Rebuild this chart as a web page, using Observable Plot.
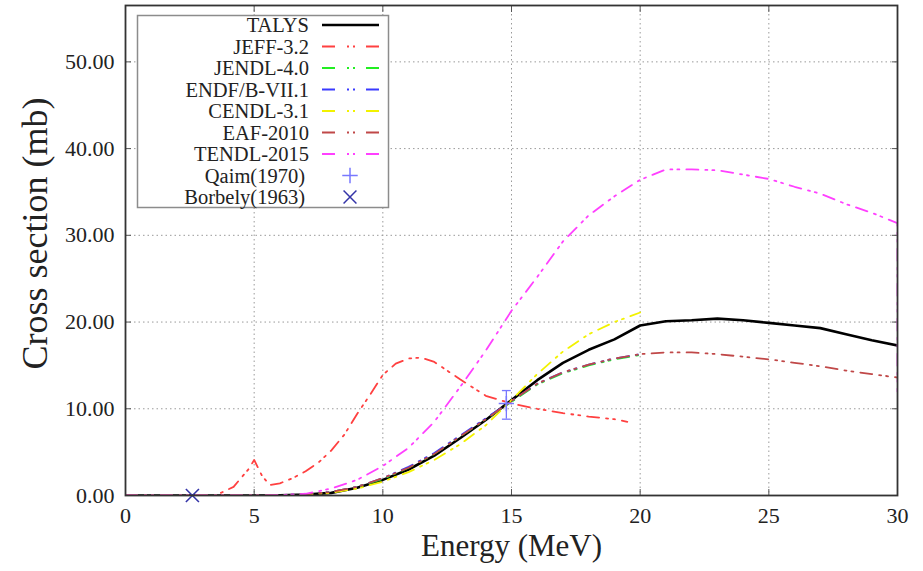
<!DOCTYPE html>
<html><head><meta charset="utf-8">
<script src="https://cdn.jsdelivr.net/npm/d3@7"></script>
<script src="https://cdn.jsdelivr.net/npm/@observablehq/plot@0.6"></script>
<style>body{margin:0;background:#fff}#chart{width:923px;height:571px}</style>
</head><body><div id="chart"></div>
<script>
// ---- data (energy MeV, cross section mb) ----
const seriesNames = ["TALYS","JEFF-3.2","JENDL-4.0","ENDF/B-VII.1","CENDL-3.1","EAF-2010","TENDL-2015"];
const seriesColors = ["#000000","#ff4040","#22ee22","#3a3aff","#f2f200","#c04848","#ff40ff"];
const TALYS = [[0,0],[5,0],[6,0.02],[7,0.1],[8,0.3],[9,0.9],[10,1.8],[11,3.0],[12,4.6],[13,6.6],[14,8.7],[15,11.0],[16,13.3],[17,15.3],[18,16.8],[19,18.0],[20,19.6],[21,20.1],[22,20.2],[23,20.4],[24,20.2],[25,19.9],[26,19.6],[27,19.3],[28,18.6],[29,17.9],[30,17.3]];
const JEFF = [[0,0],[3.5,0],[4.2,1.0],[4.8,3.1],[5.0,4.1],[5.3,2.3],[5.6,1.2],[6,1.4],[6.5,2.0],[7,2.8],[7.5,3.8],[8,5.2],[8.5,7.0],[9,9.4],[9.5,11.6],[10,13.9],[10.5,15.2],[11,15.8],[11.5,15.9],[12,15.4],[13,13.4],[14,11.5],[15,10.6],[16,10.0],[17,9.5],[18,9.1],[19,8.8],[19.5,8.5]];
const JENDL = [[0,0],[5,0],[6,0.03],[7,0.15],[8,0.4],[9,1.0],[10,1.9],[11,3.2],[12,4.8],[13,6.8],[14,8.8],[15,10.8],[16,12.8],[17,14.1],[18,15.0],[19,15.7],[20,16.2]];
const ENDF = [[0,0],[5,0],[6,0.03],[7,0.15],[8,0.4],[9,1.0],[10,2.0],[11,3.3],[12,4.9],[13,6.9],[14,8.9],[15,10.9],[16,12.9],[17,14.2],[18,15.1],[19,15.8],[20,16.3]];
const CENDL = [[0,0],[5,0],[6,0.02],[7,0.1],[8,0.3],[9,0.8],[10,1.6],[11,2.7],[12,4.1],[13,5.9],[14,8.1],[15,11.0],[16,14.0],[17,16.6],[18,18.6],[19,20.0],[20,21.1]];
const EAF = [[0,0],[5,0],[6,0.03],[7,0.15],[8,0.4],[9,1.0],[10,2.0],[11,3.2],[12,4.8],[13,6.8],[14,8.8],[15,10.9],[16,12.9],[17,14.2],[18,15.1],[19,15.8],[20,16.3],[21,16.5],[22,16.5],[23,16.3],[24,16.0],[25,15.7],[26,15.3],[27,14.9],[28,14.4],[29,14.0],[30,13.6]];
const TENDL = [[0,0],[5,0],[6,0.05],[7,0.2],[8,0.8],[9,1.8],[10,3.4],[11,5.5],[12,8.5],[13,12.5],[14,16.7],[15,21.3],[16,25.2],[17,29.3],[18,32.3],[19,34.5],[20,36.4],[21,37.6],[22,37.6],[23,37.5],[24,37.0],[25,36.5],[26,35.6],[27,34.8],[28,33.6],[29,32.6],[30,31.4],[30,12.0]];
const qaimE = [14.8], qaimXS = [10.6], qaimLo = [8.8], qaimHi = [12.1];
const borbelyE = [2.6], borbelyXS = [0.0];
const xTicks = [0,5,10,15,20,25,30];
const yTicks = [0,10,20,30,40,50];
const expNames = ["Qaim(1970)","Borbely(1963)"];
const expColors = ["#7878ff","#3434a8"];

// ---- build table ----
const seriesData = [TALYS, JEFF, JENDL, ENDF, CENDL, EAF, TENDL];
const rows = seriesData.map((arr, i) => arr.map(([e, xs]) => ({series: seriesNames[i], e, xs})));
const qaim = qaimE.map((e, i) => ({e, xs: qaimXS[i], lo: qaimLo[i], hi: qaimHi[i]}));
const borbely = borbelyE.map((e, i) => ({e, xs: borbelyXS[i]}));

const serif = '"Liberation Serif", "Times New Roman", serif';
const dash = "12,7,2,5,2,7";
const capSymbol = {draw(ctx, size) { const w = Math.sqrt(size); ctx.moveTo(-w/2, 0); ctx.lineTo(w/2, 0); }};

const lineMarks = rows.map((data, i) => Plot.line(data, {
  x: "e", y: "xs", stroke: seriesColors[i],
  strokeWidth: i === 0 ? 2.6 : 1.8,
  strokeDasharray: i === 0 ? null : dash,
  clip: true
}));

const chart = Plot.plot({
  width: 923, height: 571,
  marginLeft: 125, marginRight: 26, marginTop: 5, marginBottom: 76,
  style: {fontFamily: serif, fontSize: "22px", color: "#222", background: "#fff", overflow: "visible"},
  x: {domain: [0, 30], label: null},
  y: {domain: [0, 56.5], label: null},
  marks: [
    Plot.gridX(xTicks, {stroke: "#9a9a9a", strokeOpacity: 1, strokeDasharray: "1.5,3"}),
    Plot.gridY(yTicks, {stroke: "#9a9a9a", strokeOpacity: 1, strokeDasharray: "1.5,3"}),
    Plot.axisX(xTicks, {anchor: "bottom", tickSize: -6, tickPadding: 18, label: null, fontSize: 22, stroke: "#555"}),
    Plot.axisX(xTicks, {anchor: "top", tickSize: -6, tickFormat: () => "", label: null, stroke: "#555"}),
    Plot.axisY(yTicks, {anchor: "left", tickSize: -6, tickPadding: 17, label: null, fontSize: 22, stroke: "#555", tickFormat: d => d.toFixed(2)}),
    Plot.axisY(yTicks, {anchor: "right", tickSize: -6, tickFormat: () => "", label: null, stroke: "#555"}),
    ...lineMarks,
    Plot.ruleX(qaim, {x: "e", y1: "lo", y2: "hi", stroke: expColors[0], strokeWidth: 1.3}),
    Plot.dot(qaim, {x: "e", y: "lo", symbol: capSymbol, r: 5, stroke: expColors[0], strokeWidth: 1.3}),
    Plot.dot(qaim, {x: "e", y: "hi", symbol: capSymbol, r: 5, stroke: expColors[0], strokeWidth: 1.3}),
    Plot.dot(qaim, {x: "e", y: "xs", symbol: "plus", r: 5, stroke: expColors[0], strokeWidth: 1.5}),
    Plot.dot(borbely, {x: "e", y: "xs", symbol: "times", r: 6, stroke: expColors[1], strokeWidth: 1.6}),
    Plot.frame({stroke: "#333", strokeWidth: 1.8}),
    Plot.text(["Energy (MeV)"], {frameAnchor: "bottom", dy: 60, fontSize: 31, fontFamily: serif, fill: "#222"}),
    Plot.text(["Cross section (mb)"], {frameAnchor: "left", textAnchor: "middle", rotate: -90, dx: -90, dy: -17, fontSize: 36, fontFamily: serif, fill: "#222"})
  ]
});
document.getElementById("chart").appendChild(chart);

// ---- legend (drawn into the Plot SVG) ----
const svg = d3.select(chart);
const lg = svg.append("g").attr("font-family", serif).attr("font-size", 20.5).attr("fill", "#222");
lg.append("rect").attr("x", 137.5).attr("y", 15.5).attr("width", 251).attr("height", 192)
  .attr("fill", "#fff").attr("stroke", "#8c8c8c").attr("stroke-width", 1.5);
const rowY = i => 25 + i * 21.5;
seriesNames.forEach((name, i) => {
  lg.append("text").attr("x", 309).attr("y", rowY(i)).attr("dy", "0.35em").attr("text-anchor", "end").text(name);
  lg.append("line").attr("x1", 322).attr("x2", 379).attr("y1", rowY(i)).attr("y2", rowY(i))
    .attr("stroke", seriesColors[i]).attr("stroke-width", i === 0 ? 2.6 : 1.8)
    .attr("stroke-dasharray", i === 0 ? null : "13,12,2,4,2,11");
});
expNames.forEach((name, j) => {
  const i = seriesNames.length + j;
  lg.append("text").attr("x", 305).attr("y", rowY(i)).attr("dy", "0.35em").attr("text-anchor", "end").text(name);
  const sym = d3.symbol(j === 0 ? d3.symbolPlus : d3.symbolTimes, j === 0 ? 80 : 110)();
  lg.append("path").attr("d", sym).attr("transform", `translate(350,${rowY(i)})`)
    .attr("fill", "none").attr("stroke", expColors[j]).attr("stroke-width", 1.5);
});
</script>
</body></html>
